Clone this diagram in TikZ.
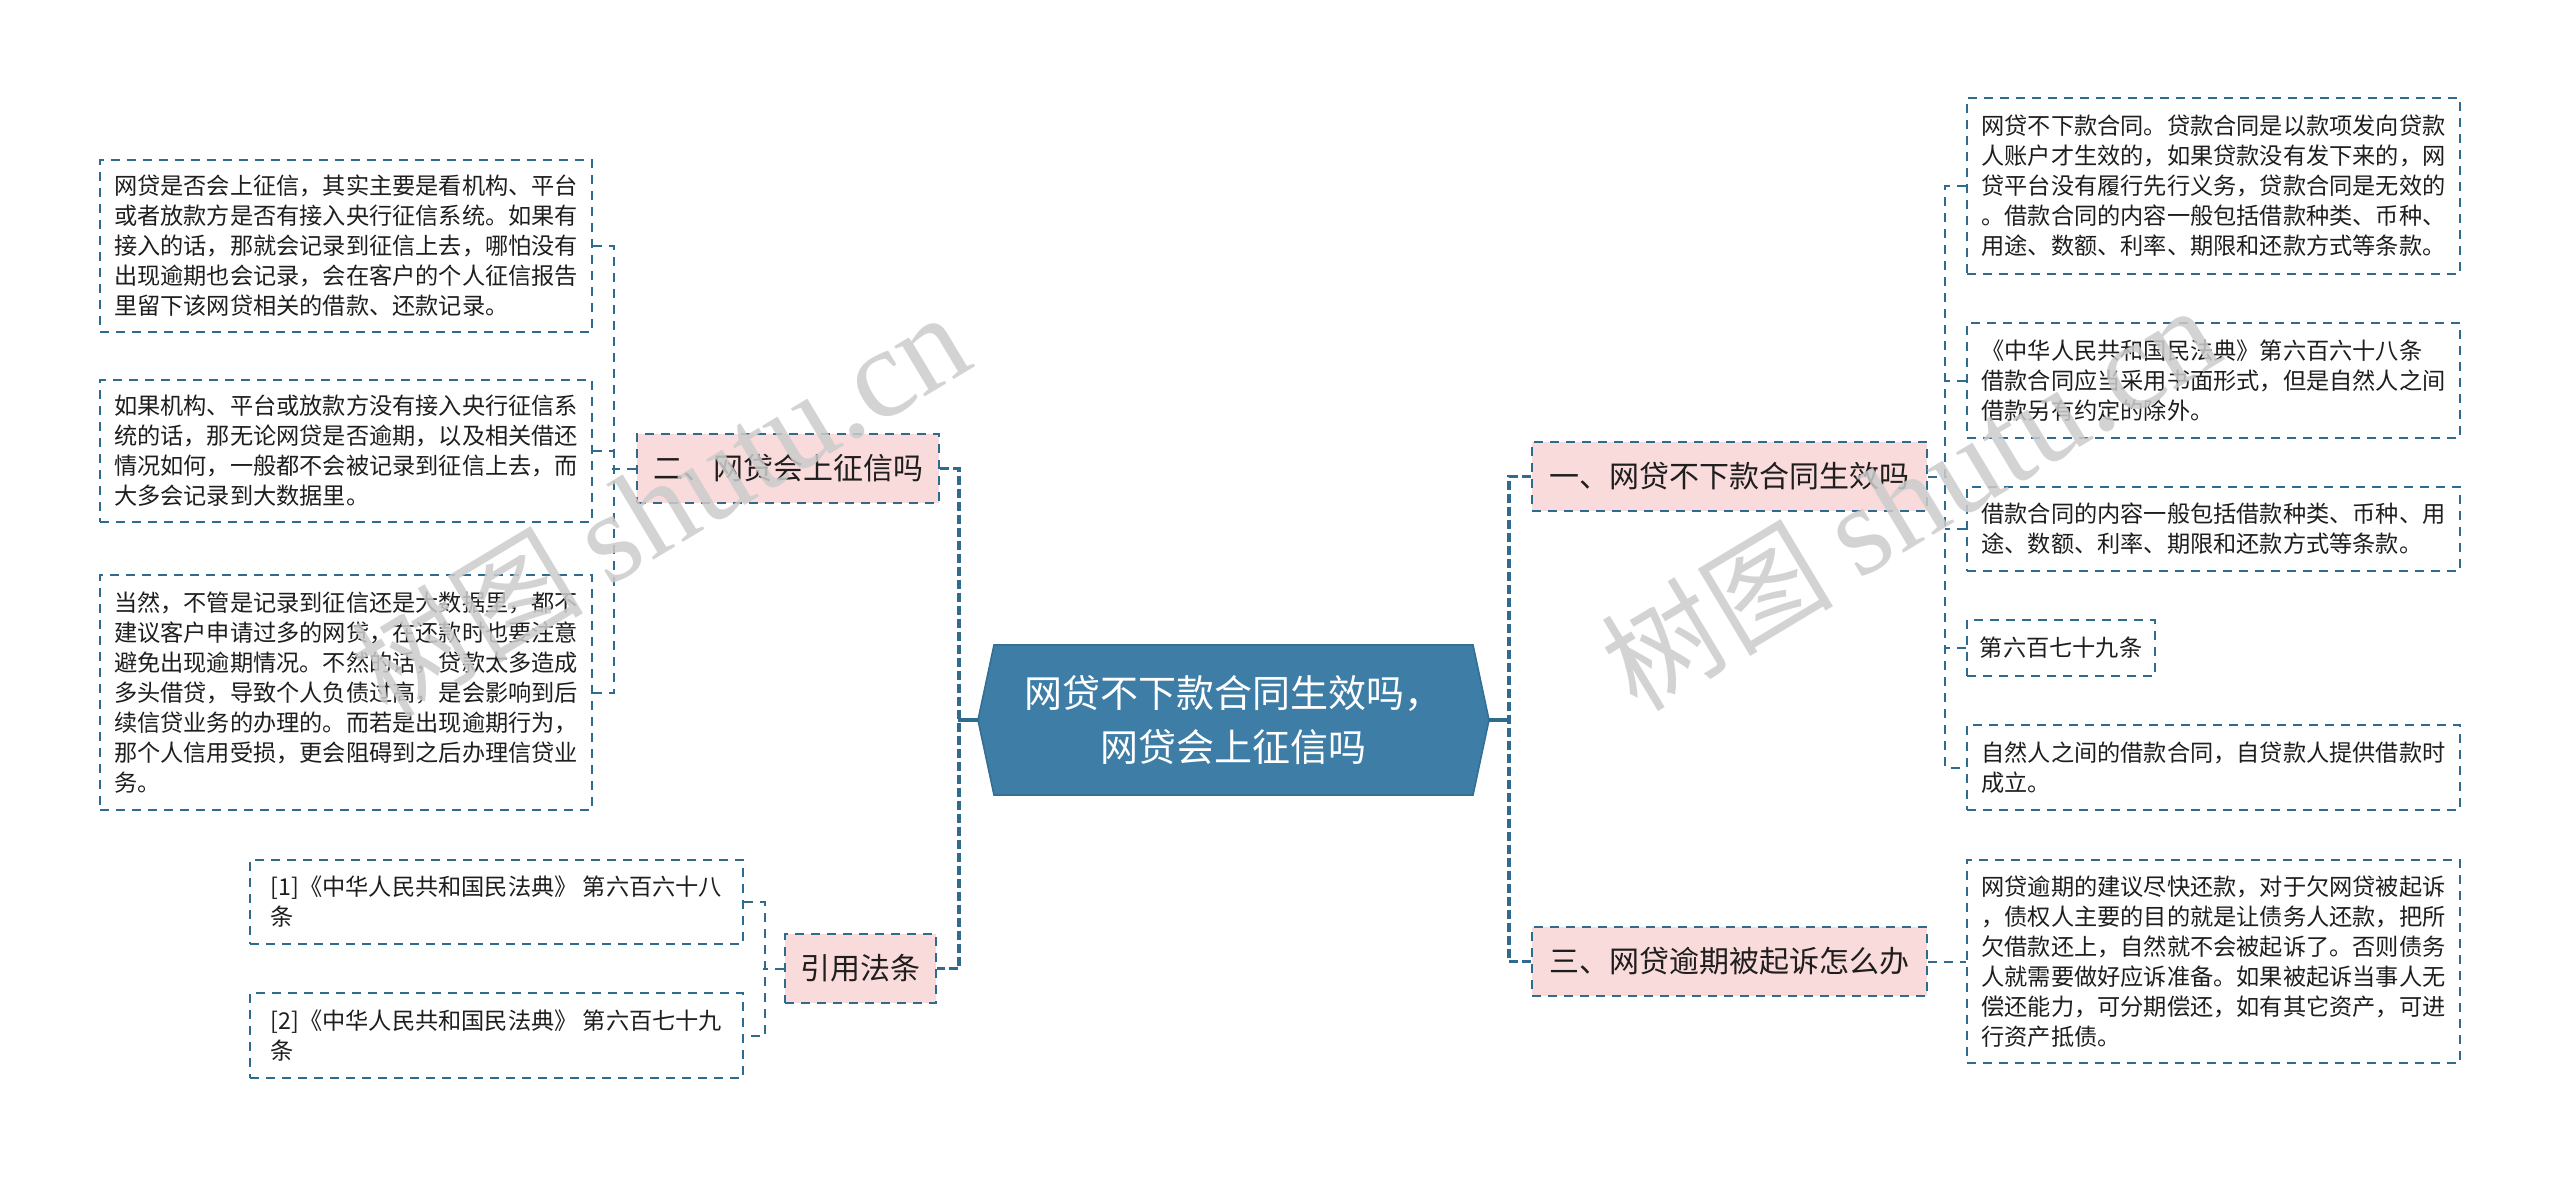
\documentclass[tikz,border=0pt]{standalone}
\usepackage{fontspec}
\setmainfont{Noto Sans CJK SC}
\newfontfamily\wmserif{Liberation Serif}
\definecolor{lnc}{HTML}{2E6B8F}
\definecolor{pinkf}{HTML}{FADBDB}
\definecolor{hexf}{HTML}{3D7DA6}
\definecolor{hexd}{HTML}{346F95}
\definecolor{txt}{HTML}{1E1E1E}
\begin{document}
\begin{tikzpicture}[x=0.5pt,y=-0.5pt,
  leaf/.style={draw=lnc, line width=1pt, dash pattern=on 4.5pt off 3.5pt, fill=white,
    align=left, font=\fontsize{11.6}{15}\selectfont, text=txt, inner xsep=5pt, inner ysep=4pt},
  mainbox/.style={draw=lnc, line width=1pt, dash pattern=on 4.5pt off 3.5pt, fill=pinkf,
    font=\fontsize{15}{18}\selectfont, text=txt, inner sep=3pt, minimum height=34.5pt},
  link/.style={draw=lnc, line width=1pt, dash pattern=on 4.5pt off 3.5pt},
  trunk/.style={draw=lnc, line width=1.7pt, dash pattern=on 4.5pt off 2pt},
  solidl/.style={draw=lnc, line width=1.7pt},
  wmark/.style={rotate=31, text=black!20, opacity=0.85, font=\fontsize{58}{60}\selectfont}
]
\useasboundingbox (0,0) rectangle (2560,1179);
\fill[white] (0,0) rectangle (2560,1179);

% center hexagon
\filldraw[fill=hexf, draw=hexd, line width=0.8pt] (978,720) -- (994,645) -- (1473,645) -- (1489,720) -- (1473,795) -- (994,795) -- cycle;
\node[minimum width=255.5pt, minimum height=75pt, inner sep=0pt, align=center, text=white,
  font=\fontsize{19}{27}\selectfont] (c) at (1233.5,720) {网贷不下款合同生效吗，\\网贷会上征信吗};

% main branches
\node[mainbox, minimum width=151pt] (er) at (788,468.5) {二、网贷会上征信吗};
\node[mainbox, minimum width=75.5pt] (yin) at (860.5,968.5) {引用法条};
\node[mainbox, minimum width=197.5pt] (r1) at (1729.5,476.5) {一、网贷不下款合同生效吗};
\node[mainbox, minimum width=197.5pt] (r3) at (1729.5,961.5) {三、网贷逾期被起诉怎么办};

% left leaves
\node[leaf, minimum width=246pt, minimum height=86pt] (l1) at (346,246) {网贷是否会上征信，其实主要是看机构、平台\\或者放款方是否有接入央行征信系统。如果有\\接入的话，那就会记录到征信上去，哪怕没有\\出现逾期也会记录，会在客户的个人征信报告\\里留下该网贷相关的借款、还款记录。};
\node[leaf, minimum width=246pt, minimum height=71pt] (l2) at (346,451) {如果机构、平台或放款方没有接入央行征信系\\统的话，那无论网贷是否逾期，以及相关借还\\情况如何，一般都不会被记录到征信上去，而\\大多会记录到大数据里。};
\node[leaf, minimum width=246pt, minimum height=117.5pt] (l3) at (346,692.5) {当然，不管是记录到征信还是大数据里，都不\\建议客户申请过多的网贷，在还款时也要注意\\避免出现逾期情况。不然的话，贷款太多造成\\多头借贷，导致个人负债过高，是会影响到后\\续信贷业务的办理的。而若是出现逾期行为，\\那个人信用受损，更会阻碍到之后办理信贷业\\务。};
\node[leaf, minimum width=246.5pt, minimum height=42pt] (c1) at (496.5,902) {[1]《中华人民共和国民法典》 第六百六十八\\条};
\node[leaf, minimum width=246.5pt, minimum height=42.5pt] (c2) at (496.5,1035.5) {[2]《中华人民共和国民法典》 第六百七十九\\条};

% right leaves
\node[leaf, minimum width=246.5pt, minimum height=88pt] (rl1) at (2213.5,186) {网贷不下款合同。贷款合同是以款项发向贷款\\人账户才生效的，如果贷款没有发下来的，网\\贷平台没有履行先行义务，贷款合同是无效的\\。借款合同的内容一般包括借款种类、币种、\\用途、数额、利率、期限和还款方式等条款。};
\node[leaf, minimum width=246.5pt, minimum height=57.5pt] (rl2) at (2213.5,380.5) {《中华人民共和国民法典》第六百六十八条\\借款合同应当采用书面形式，但是自然人之间\\借款另有约定的除外。};
\node[leaf, minimum width=246.5pt, minimum height=42pt] (rl3) at (2213.5,529) {借款合同的内容一般包括借款种类、币种、用\\途、数额、利率、期限和还款方式等条款。};
\node[leaf, minimum width=94pt, minimum height=28pt] (rl4) at (2061,648) {第六百七十九条};
\node[leaf, minimum width=246.5pt, minimum height=42.5pt] (rl5) at (2213.5,767.5) {自然人之间的借款合同，自贷款人提供借款时\\成立。};
\node[leaf, minimum width=246.5pt, minimum height=101.5pt] (rl6) at (2213.5,961.5) {网贷逾期的建议尽快还款，对于欠网贷被起诉\\，债权人主要的目的就是让债务人还款，把所\\欠借款还上，自然就不会被起诉了。否则债务\\人就需要做好应诉准备。如果被起诉当事人无\\偿还能力，可分期偿还，如有其它资产，可进\\行资产抵债。};

% trunks
\coordinate (lt) at (958,720);
\coordinate (rt) at (1510,720);
\draw[solidl] (c.west) -- (lt);
\draw[solidl] (c.east) -- (rt);
\draw[trunk] (er.east) -- ++(19,0) |- (yin.east);
\draw[trunk] (r1.west) -- ++(-22,0) |- (r3.west);

% left sub-branches
\draw[link] (l1.east) -- ++(21,0) |- (l3.east);
\draw[link] (l2.east) -- ++(21,0);
\draw[link] (er.west) -- ++(-24,0);
\draw[link] (c1.east) -- ++(21,0) |- (c2.east);
\draw[link] (yin.west) -- ++(-21,0);

% right sub-branches
\draw[link] (r1.east) -- ++(19,0);
\draw[link] (rl1.west) -- ++(-21,0) |- (rl5.west);
\draw[link] (rl2.west) -- ++(-21,0);
\draw[link] (rl3.west) -- ++(-21,0);
\draw[link] (rl4.west) -- ++(-21,0);
\draw[link] (r3.east) -- (rl6.west);

% watermarks
\node[wmark] (wm1) at (660,505) {树图 {\wmserif\fontsize{64}{66}\selectfont shutu.cn}};
\node[wmark] (wm2) at (1910,498) {树图 {\wmserif\fontsize{64}{66}\selectfont shutu.cn}};
\end{tikzpicture}
\end{document}
